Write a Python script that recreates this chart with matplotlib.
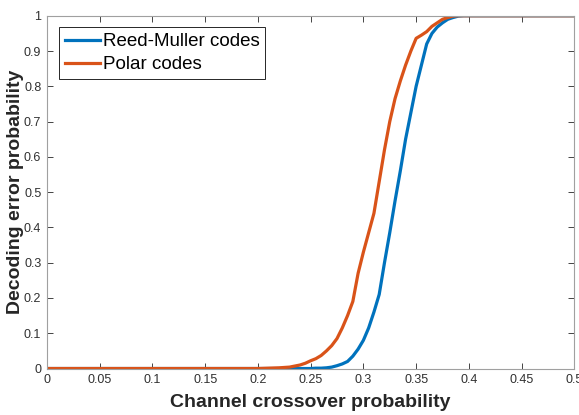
import numpy as np
import matplotlib
matplotlib.use("Agg")
import matplotlib.pyplot as plt

plt.rcParams['font.family'] = ['Liberation Sans', 'DejaVu Sans']

# crossover probability grid (coarse where flat, fine across the waterfall)
p = [0.0, 0.05, 0.1, 0.15, 0.2, 0.21, 0.22, 0.23, 0.24, 0.245, 0.25, 0.255, 0.26,
     0.265, 0.27, 0.275, 0.28, 0.285, 0.29, 0.295, 0.3, 0.305, 0.31, 0.315,
     0.32, 0.325, 0.33, 0.335, 0.34, 0.345, 0.35, 0.355, 0.36, 0.365, 0.37,
     0.375, 0.38, 0.385, 0.39, 0.395, 0.4, 0.45, 0.5]

rm_err = [0.0, 0.0, 0.0, 0.0, 0.0, 0.0, 0.0, 0.0, 0.0, 0.0, 0.0, 0.001, 0.001,
          0.002, 0.004, 0.008, 0.013, 0.02, 0.035, 0.055, 0.08, 0.115, 0.16, 0.21,
          0.30, 0.385, 0.475, 0.56, 0.65, 0.725, 0.80, 0.86, 0.92, 0.95, 0.968,
          0.98, 0.99, 0.995, 0.999, 1.0, 1.0, 1.0, 1.0]

polar_err = [0.0, 0.0, 0.0, 0.0, 0.0, 0.001, 0.002, 0.004, 0.01, 0.015, 0.022, 0.028,
             0.037, 0.05, 0.065, 0.085, 0.115, 0.15, 0.19, 0.27, 0.33, 0.385, 0.44,
             0.53, 0.62, 0.70, 0.765, 0.815, 0.86, 0.90, 0.936, 0.945, 0.955, 0.97,
             0.98, 0.99, 0.995, 0.999, 1.0, 1.0, 1.0, 1.0, 1.0]

fig = plt.figure(figsize=(5.79, 4.15), dpi=100)
ax = fig.add_axes([0.081, 0.112, 0.911, 0.850])

ax.plot(p, rm_err, color='#0072BD', lw=2.3, label='Reed-Muller codes')
ax.plot(p, polar_err, color='#D95319', lw=2.3, label='Polar codes')

ax.set_xlim(0, 0.5)
ax.set_ylim(0, 1)
ax.set_xticks(np.arange(0, 0.51, 0.05))
ax.set_yticks(np.arange(0, 1.01, 0.1))
ax.set_xticklabels(['0', '0.05', '0.1', '0.15', '0.2', '0.25', '0.3', '0.35', '0.4', '0.45', '0.5'])
ax.set_yticklabels(['0', '0.1', '0.2', '0.3', '0.4', '0.5', '0.6', '0.7', '0.8', '0.9', '1'])
ax.tick_params(direction='in', top=True, right=True, length=4, width=0.6,
               colors='#262626', labelsize=9, labelcolor='#303030', pad=4)
for s in ax.spines.values():
    s.set_color('#a0a0a0')
    s.set_linewidth(0.8)

ax.set_xlabel('Channel crossover probability', fontsize=14, fontweight='bold', color='#262626', labelpad=6)
ax.set_ylabel('Decoding error probability', fontsize=14, fontweight='bold', color='#262626', labelpad=0)

leg = ax.legend(loc='upper left', bbox_to_anchor=(0.023, 0.967), fontsize=13.5, fancybox=False,
                framealpha=1, edgecolor='#262626', handlelength=1.9, handletextpad=0.15,
                borderpad=0.3, labelspacing=0.32, borderaxespad=0)
leg.get_frame().set_linewidth(0.7)

fig.savefig('out.png', dpi=100)
